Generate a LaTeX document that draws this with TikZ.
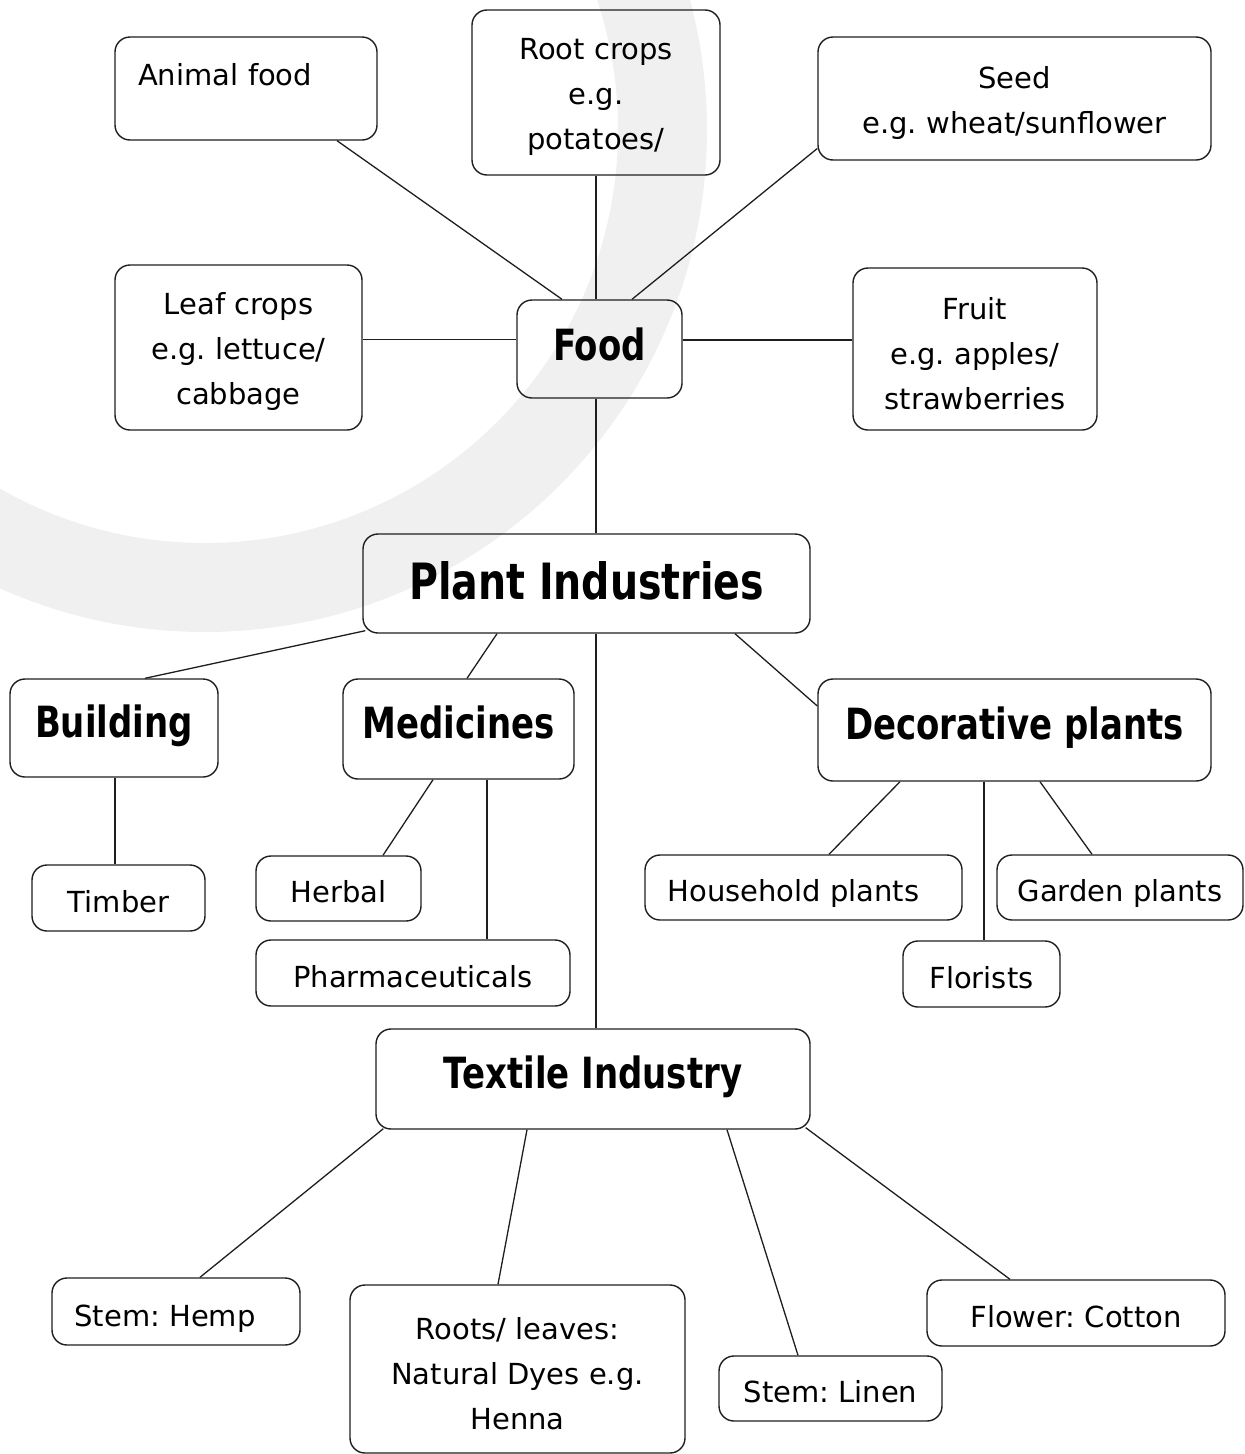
\documentclass[tikz,border=0pt]{standalone}
\usepackage{fontspec}
\setmainfont{DejaVu Sans}
\newfontfamily\hfont{DejaVu Sans}[FakeStretch=0.79]
\usetikzlibrary{calc}
\definecolor{ringgray}{RGB}{240,240,240}
\definecolor{ink}{RGB}{30,30,30}
\newcommand\fst{\rule{0pt}{31pt}}
\tikzset{
  box/.style={draw=ink, rounded corners=15pt, line width=1.4pt, align=center, inner sep=0pt,
    font=\frenchspacing\fontsize{29}{45}\selectfont},
  sbox/.style={draw=ink, rounded corners=15pt, line width=1.4pt, inner sep=0pt,
    font=\frenchspacing\fontsize{29}{45}\selectfont, text height=30pt, text depth=2pt},
  headbox/.style={box, font=\hfont\bfseries\fontsize{43}{50}\selectfont, text height=31pt, text depth=12pt},
  link/.style={draw=ink, line width=1.3pt},
}
\begin{document}
\begin{tikzpicture}[x=1pt,y=1pt]
\useasboundingbox (0,0) rectangle (1245,-1454);
\begin{scope}
\clip (0,0) rectangle (1245,-1454);
\fill[ringgray, even odd rule] (205,-130) circle[radius=502pt] (205,-130) circle[radius=413pt];
\end{scope}

% food cluster
\node[box, minimum width=262pt, minimum height=103pt, align=left, text width=216pt,
      text height=21pt, text depth=28pt] (animal) at (246,-88.5) {Animal food};
\node[box, minimum width=248pt, minimum height=165pt] (root) at (596,-92.5) {\fst Root crops\\e.g.\\potatoes/};
\node[box, minimum width=393pt, minimum height=123pt] (seed) at (1014.5,-98.5) {\fst Seed\\e.g. wheat/sunflower};
\node[box, minimum width=247pt, minimum height=165pt] (leaf) at (238.5,-347.5) {\fst Leaf crops\\e.g. lettuce/\\cabbage};
\node[headbox, minimum width=165pt, minimum height=98pt, text depth=8pt] (food) at (599.5,-349) {Food};
\node[box, minimum width=244pt, minimum height=162pt] (fruit) at (975,-349) {\fst Fruit\\e.g. apples/\\strawberries};

% plant industries
\node[headbox, font=\hfont\bfseries\fontsize{50}{56}\selectfont, text height=37pt, text depth=6pt,
      minimum width=447pt, minimum height=99pt] (pi) at (586.5,-583.5) {Plant Industries};

\node[headbox, minimum width=208pt, minimum height=98pt] (building) at (114,-728) {Building};
\node[headbox, minimum width=231pt, minimum height=100pt] (medicines) at (458.5,-729) {Medicines};
\node[headbox, minimum width=393pt, minimum height=102pt] (decor) at (1014.5,-730) {Decorative plants};

\node[sbox, minimum width=173pt, minimum height=66pt] (timber) at (118.5,-898) {Timber};
\node[sbox, minimum width=165pt, minimum height=65pt] (herbal) at (338.5,-888.5) {Herbal};
\node[sbox, minimum width=314pt, minimum height=66pt] (pharma) at (413,-973) {Pharmaceuticals};
\node[sbox, minimum width=317pt, minimum height=65pt] (household) at (803.5,-887.5) {Household plants\hspace*{20pt}};
\node[sbox, minimum width=246pt, minimum height=65pt] (garden) at (1120,-887.5) {Garden plants};
\node[sbox, minimum width=157pt, minimum height=66pt] (florists) at (981.5,-974) {Florists};

% textile
\node[headbox, minimum width=434pt, minimum height=100pt] (textile) at (593,-1079) {Textile Industry};
\node[sbox, minimum width=248pt, minimum height=67pt, text height=32pt] (hemp) at (176,-1311.5) {Stem: Hemp\hspace*{22pt}};
\node[box, minimum width=335pt, minimum height=168pt] (roots) at (517.5,-1369) {\fst Roots/ leaves:\\Natural Dyes e.g.\\Henna};
\node[sbox, minimum width=223pt, minimum height=65pt] (linen) at (830.5,-1388.5) {Stem: Linen};
\node[sbox, minimum width=298pt, minimum height=66pt] (cotton) at (1076,-1313) {Flower: Cotton};

% connectors: food cluster
\draw[link] ([xshift=91pt]animal.south) -- ([xshift=-37.5pt]food.north);
\draw[link] (root.south) -- (root.south |- food.north);
\draw[link] ([yshift=-50pt]seed.west) -- ([xshift=32.5pt]food.north);
\draw[link] ([yshift=8pt]leaf.east) -- ([yshift=8pt]leaf.east -| food.west);
\draw[link] ([yshift=9pt]food.east) -- ([yshift=9pt]food.east -| fruit.west);
\draw[link] ([xshift=-3.5pt]food.south) -- ([xshift=-3.5pt]food.south |- pi.north);

% connectors: plant industries
\draw[link] ([xshift=3pt,yshift=3pt]pi.south west) -- ([xshift=31pt]building.north);
\draw[link] ([xshift=-89.5pt]pi.south) -- ([xshift=8.5pt]medicines.north);
\draw[link] ([xshift=9.5pt]pi.south) -- ([xshift=9.5pt]pi.south |- textile.north);
\draw[link] ([xshift=148.5pt]pi.south) -- ([yshift=24pt]decor.west);

\draw[link] ([xshift=1pt]building.south) -- ([xshift=1pt]building.south |- timber.north);
\draw[link] ([xshift=-25.5pt]medicines.south) -- ([xshift=44.5pt]herbal.north);
\draw[link] ([xshift=28.5pt]medicines.south) -- ([xshift=28.5pt]medicines.south |- pharma.north);
\draw[link] ([xshift=-114.5pt]decor.south) -- ([xshift=25.5pt]household.north);
\draw[link] ([xshift=-30.5pt]decor.south) -- ([xshift=-30.5pt]decor.south |- florists.north);
\draw[link] ([xshift=25.5pt]decor.south) -- ([xshift=-28pt]garden.north);

% connectors: textile
\draw[link] ([xshift=8pt,yshift=1pt]textile.south west) -- ([xshift=24pt]hemp.north);
\draw[link] ([xshift=-66pt]textile.south) -- ([xshift=-19.5pt]roots.north);
\draw[link] ([xshift=134pt]textile.south) -- ([xshift=-32.5pt]linen.north);
\draw[link] ([xshift=-5pt,yshift=2pt]textile.south east) -- ([xshift=-66pt]cotton.north);
\end{tikzpicture}
\end{document}
